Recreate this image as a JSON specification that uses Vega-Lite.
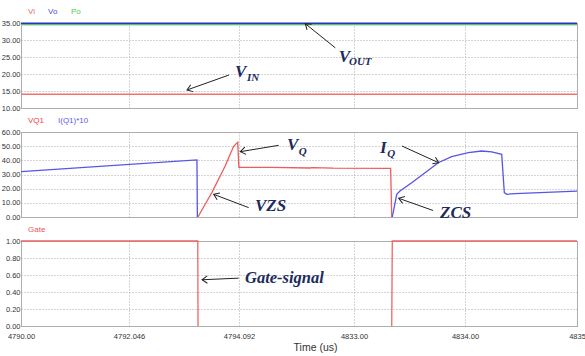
{
  "$schema": "https://vega.github.io/schema/vega-lite/v6.json",
  "background": "white",
  "padding": {"left": 0, "top": 7, "right": 2, "bottom": 0},
  "config": {
    "font": "Liberation Sans",
    "view": {"stroke": "#b0b0b0"},
    "axis": {
      "labelFont": "Liberation Sans",
      "labelFontSize": 7.5,
      "labelColor": "#333333",
      "ticks": false,
      "domain": false,
      "grid": true,
      "gridColor": "#a8a8a8",
      "gridDash": [1, 2],
      "gridWidth": 1,
      "labelPadding": 1
    },
    "legend": {
      "orient": "none",
      "legendX": -1,
      "legendY": -15,
      "direction": "horizontal",
      "title": null,
      "symbolSize": 0,
      "symbolStrokeWidth": 0,
      "symbolOpacity": 0,
      "labelOffset": 0,
      "columnPadding": 5,
      "labelFont": "Liberation Sans",
      "labelFontSize": 8
    }
  },
  "spacing": 24,
  "bounds": "flush",
  "resolve": {"scale": {"color": "independent", "y": "independent", "x": "independent"}, "legend": {"color": "independent"}},
  "datasets": {
    "top_lines": [
      {"s": "Po", "t": 4790, "v": 34.5}, {"s": "Po", "t": 4835, "v": 34.5},
      {"s": "Vo", "t": 4790, "v": 34.9}, {"s": "Vo", "t": 4835, "v": 34.9},
      {"s": "Vi", "t": 4790, "v": 14.05}, {"s": "Vi", "t": 4835, "v": 14.05}
    ],
    "top_text": [
      {"txt": "V", "k": "m", "t": 4794.018, "v": 20.6},
      {"txt": "IN", "k": "s", "t": 4796.8, "v": 18.7},
      {"txt": "V", "k": "m", "t": 4827.82, "v": 25.06},
      {"txt": "OUT", "k": "s", "t": 4831.3, "v": 23.4}
    ],
    "top_arr": [
      {"n": "VIN", "t": 4793.125, "v": 15.3, "t2": 4793.906, "v2": 19.7},
      {"n": "VOUT", "t": 4816.52, "v": 34.8, "t2": 4826.67, "v2": 27.7}
    ],
    "mid_lines": [
      {"s": "VQ1", "g": "r1", "t": 4793.329, "v": 0},
      {"s": "VQ1", "g": "r1", "t": 4793.465, "v": 9.2},
      {"s": "VQ1", "g": "r1", "t": 4793.59, "v": 17.4},
      {"s": "VQ1", "g": "r1", "t": 4793.714, "v": 26.8},
      {"s": "VQ1", "g": "r1", "t": 4793.837, "v": 36.2},
      {"s": "VQ1", "g": "r1", "t": 4793.93, "v": 44.5},
      {"s": "VQ1", "g": "r1", "t": 4793.993, "v": 49.9},
      {"s": "VQ1", "g": "r1", "t": 4794.068, "v": 52.7},
      {"s": "VQ1", "g": "r1", "t": 4794.09, "v": 35.1},
      {"s": "VQ1", "g": "r1", "t": 4805, "v": 35.0},
      {"s": "VQ1", "g": "r1", "t": 4818, "v": 34.6},
      {"s": "VQ1", "g": "r1", "t": 4819, "v": 34.9},
      {"s": "VQ1", "g": "r1", "t": 4826, "v": 34.5},
      {"s": "VQ1", "g": "r1", "t": 4833.33, "v": 34.3},
      {"s": "VQ1", "g": "r1", "t": 4833.34, "v": 0},
      {"s": "I(Q1)*10", "g": "b1", "t": 4790, "v": 32},
      {"s": "I(Q1)*10", "g": "b1", "t": 4793.31, "v": 40.3},
      {"s": "I(Q1)*10", "g": "b1", "t": 4793.318, "v": 0},
      {"s": "I(Q1)*10", "g": "b2", "t": 4833.345, "v": 0},
      {"s": "I(Q1)*10", "g": "b2", "t": 4833.385, "v": 16},
      {"s": "I(Q1)*10", "g": "b2", "t": 4833.414, "v": 18.3},
      {"s": "I(Q1)*10", "g": "b2", "t": 4833.52, "v": 24.2},
      {"s": "I(Q1)*10", "g": "b2", "t": 4833.64, "v": 31.3},
      {"s": "I(Q1)*10", "g": "b2", "t": 4833.759, "v": 38.3},
      {"s": "I(Q1)*10", "g": "b2", "t": 4833.88, "v": 42.6},
      {"s": "I(Q1)*10", "g": "b2", "t": 4834.029, "v": 45.4},
      {"s": "I(Q1)*10", "g": "b2", "t": 4834.149, "v": 46.6},
      {"s": "I(Q1)*10", "g": "b2", "t": 4834.238, "v": 45.9},
      {"s": "I(Q1)*10", "g": "b2", "t": 4834.328, "v": 44.2},
      {"s": "I(Q1)*10", "g": "b2", "t": 4834.351, "v": 17.2},
      {"s": "I(Q1)*10", "g": "b2", "t": 4834.372, "v": 16},
      {"s": "I(Q1)*10", "g": "b2", "t": 4834.446, "v": 16.5},
      {"s": "I(Q1)*10", "g": "b2", "t": 4835, "v": 18.3}
    ],
    "mid_text": [
      {"txt": "V", "k": "m", "t": 4810.33, "v": 50.8},
      {"txt": "Q", "k": "s", "t": 4814.3, "v": 45.6},
      {"txt": "VZS", "k": "m", "t": 4799.5, "v": 7.8},
      {"txt": "I", "k": "m", "t": 4833.234, "v": 49},
      {"txt": "Q", "k": "s", "t": 4833.3, "v": 44.3},
      {"txt": "ZCS", "k": "m", "t": 4833.775, "v": 2.8}
    ],
    "mid_arr": [
      {"n": "VQ", "t": 4794.53, "v": 46.1, "t2": 4807.52, "v2": 50.6},
      {"n": "VZS", "t": 4793.621, "v": 16.0, "t2": 4797.37, "v2": 6.6},
      {"n": "IQ", "t": 4833.763, "v": 38.3, "t2": 4833.432, "v2": 50.1},
      {"n": "ZCS", "t": 4833.403, "v": 13.2, "t2": 4833.712, "v2": 4.6}
    ],
    "bot_lines": [
      {"s": "Gate", "g": "g1", "t": 4790, "v": 1},
      {"s": "Gate", "g": "g1", "t": 4793.325, "v": 1},
      {"s": "Gate", "g": "g1", "t": 4793.33, "v": 0},
      {"s": "Gate", "g": "g2", "t": 4833.34, "v": 0},
      {"s": "Gate", "g": "g2", "t": 4833.345, "v": 1},
      {"s": "Gate", "g": "g2", "t": 4835, "v": 1}
    ],
    "bot_text": [
      {"txt": "Gate-signal", "k": "m", "t": 4796.12, "v": 0.56}
    ],
    "bot_arr": [
      {"n": "GATE", "t": 4793.404, "v": 0.544, "t2": 4794.086, "v2": 0.563}
    ]
  },
  "vconcat": [
    {
      "width": 556,
      "height": 85,
      "encoding": {
        "x": {"field": "t", "type": "quantitative",
          "scale": {"domain": [4790, 4792.046, 4794.092, 4833, 4834, 4835], "range": [0, 108, 218, 333, 444, 556], "nice": false, "zero": false},
          "axis": {"values": [4790, 4792.046, 4794.092, 4833, 4834, 4835], "labels": false, "title": null}},
        "y": {"field": "v", "type": "quantitative",
          "scale": {"domain": [10, 35], "nice": false, "zero": false},
          "axis": {"values": [10, 15, 20, 25, 30, 35], "format": ".2f", "title": null}}
      },
      "layer": [
        {
          "data": {"name": "top_lines"},
          "mark": {"type": "line", "strokeWidth": 1.7},
          "encoding": {
            "color": {"field": "s", "type": "nominal",
              "scale": {"domain": ["Vi", "Vo", "Po"], "range": ["#f07272", "#2b35b8", "#7edb7e"]},
              "legend": {"encode": {"labels": {"update": {"fill": {"signal": "datum.value === 'Vi' ? '#ee6666' : datum.value === 'Vo' ? '#5050d8' : '#50cc50'"}}}}}}
          }
        },
        {
          "data": {"name": "top_arr"},
          "mark": {"type": "rule", "color": "#222222", "strokeWidth": 1},
          "encoding": {"x2": {"field": "t2"}, "y2": {"field": "v2"}}
        },
        {
          "data": {"name": "top_arr"},
          "transform": [{"filter": "datum.n === 'VIN'"}],
          "mark": {"type": "point", "shape": "M-1,-0.7L0,0L-1,0.7", "angle": 160, "size": 110, "filled": false, "color": "#222222", "strokeWidth": 1, "opacity": 1}
        },
        {
          "data": {"name": "top_arr"},
          "transform": [{"filter": "datum.n === 'VOUT'"}],
          "mark": {"type": "point", "shape": "M-1,-0.7L0,0L-1,0.7", "angle": 219, "size": 110, "filled": false, "color": "#222222", "strokeWidth": 1, "opacity": 1}
        },
        {
          "data": {"name": "top_text"},
          "mark": {"type": "text", "align": "left", "baseline": "middle", "font": "Liberation Serif", "fontStyle": "italic", "fontWeight": "bold", "color": "#1c2a5c"},
          "encoding": {
            "text": {"field": "txt"},
            "size": {"field": "k", "type": "ordinal", "scale": {"domain": ["m", "s"], "range": [17, 11]}, "legend": null}
          }
        }
      ]
    },
    {
      "width": 556,
      "height": 85,
      "encoding": {
        "x": {"field": "t", "type": "quantitative",
          "scale": {"domain": [4790, 4792.046, 4794.092, 4833, 4834, 4835], "range": [0, 108, 218, 333, 444, 556], "nice": false, "zero": false},
          "axis": {"values": [4790, 4792.046, 4794.092, 4833, 4834, 4835], "labels": false, "title": null}},
        "y": {"field": "v", "type": "quantitative",
          "scale": {"domain": [0, 60], "nice": false, "zero": false},
          "axis": {"values": [0, 10, 20, 30, 40, 50, 60], "format": ".2f", "title": null}}
      },
      "layer": [
        {
          "data": {"name": "mid_lines"},
          "mark": {"type": "line", "strokeWidth": 1.3},
          "encoding": {
            "detail": {"field": "g"},
            "color": {"field": "s", "type": "nominal",
              "scale": {"domain": ["VQ1", "I(Q1)*10"], "range": ["#ee5c5c", "#5555e8"]},
              "legend": {"encode": {"labels": {"update": {"fill": {"signal": "datum.value === 'VQ1' ? '#ee4444' : '#5a5ae0'"}}}}}}
          }
        },
        {
          "data": {"name": "mid_arr"},
          "mark": {"type": "rule", "color": "#222222", "strokeWidth": 1},
          "encoding": {"x2": {"field": "t2"}, "y2": {"field": "v2"}}
        },
        {
          "data": {"name": "mid_arr"},
          "transform": [{"filter": "datum.n === 'VQ'"}],
          "mark": {"type": "point", "shape": "M-1,-0.7L0,0L-1,0.7", "angle": 170, "size": 110, "filled": false, "color": "#222222", "strokeWidth": 1, "opacity": 1}
        },
        {
          "data": {"name": "mid_arr"},
          "transform": [{"filter": "datum.n === 'VZS'"}],
          "mark": {"type": "point", "shape": "M-1,-0.7L0,0L-1,0.7", "angle": 202, "size": 110, "filled": false, "color": "#222222", "strokeWidth": 1, "opacity": 1}
        },
        {
          "data": {"name": "mid_arr"},
          "transform": [{"filter": "datum.n === 'IQ'"}],
          "mark": {"type": "point", "shape": "M-1,-0.7L0,0L-1,0.7", "angle": 25, "size": 110, "filled": false, "color": "#222222", "strokeWidth": 1, "opacity": 1}
        },
        {
          "data": {"name": "mid_arr"},
          "transform": [{"filter": "datum.n === 'ZCS'"}],
          "mark": {"type": "point", "shape": "M-1,-0.7L0,0L-1,0.7", "angle": 198, "size": 110, "filled": false, "color": "#222222", "strokeWidth": 1, "opacity": 1}
        },
        {
          "data": {"name": "mid_text"},
          "mark": {"type": "text", "align": "left", "baseline": "middle", "font": "Liberation Serif", "fontStyle": "italic", "fontWeight": "bold", "color": "#1c2a5c"},
          "encoding": {
            "text": {"field": "txt"},
            "size": {"field": "k", "type": "ordinal", "scale": {"domain": ["m", "s"], "range": [16.5, 11]}, "legend": null}
          }
        }
      ]
    },
    {
      "width": 556,
      "height": 85,
      "encoding": {
        "x": {"field": "t", "type": "quantitative",
          "scale": {"domain": [4790, 4792.046, 4794.092, 4833, 4834, 4835], "range": [0, 108, 218, 333, 444, 556], "nice": false, "zero": false},
          "axis": {
            "values": [4790, 4792.046, 4794.092, 4833, 4834, 4835],
            "title": "Time (us)",
            "titleFont": "Liberation Sans",
            "titleFontSize": 10.5,
            "titleFontWeight": "normal",
            "titleColor": "#333333",
            "titlePadding": 3,
            "titleX": 294,
            "labelPadding": 6,
            "labelOverlap": false,
            "labelFlush": false,
            "labelBound": false,
            "labelExpr": "datum.value < 4791 ? '4790.00' : datum.value < 4793 ? '4792.046' : datum.value < 4800 ? '4794.092' : datum.value < 4833.5 ? '4833.00' : datum.value < 4834.5 ? '4834.00' : '4835'",
            "encode": {"labels": {"update": {
              "fontSize": {"signal": "datum.value < 4800 ? 7.5 : 10.5"},
              "align": {"signal": "datum.value > 4834.5 ? 'right' : 'center'"}
            }}}
          }},
        "y": {"field": "v", "type": "quantitative",
          "scale": {"domain": [0, 1], "nice": false, "zero": false},
          "axis": {"values": [0, 0.2, 0.4, 0.6, 0.8, 1], "format": ".2f", "title": null}}
      },
      "layer": [
        {
          "data": {"name": "bot_lines"},
          "mark": {"type": "line", "strokeWidth": 1.3},
          "encoding": {
            "detail": {"field": "g"},
            "color": {"field": "s", "type": "nominal",
              "scale": {"domain": ["Gate"], "range": ["#f06464"]},
              "legend": {"encode": {"labels": {"update": {"fill": {"value": "#ee5555"}}}}}}
          }
        },
        {
          "data": {"name": "bot_arr"},
          "mark": {"type": "rule", "color": "#222222", "strokeWidth": 1},
          "encoding": {"x2": {"field": "t2"}, "y2": {"field": "v2"}}
        },
        {
          "data": {"name": "bot_arr"},
          "mark": {"type": "point", "shape": "M-1,-0.7L0,0L-1,0.7", "angle": 178, "size": 110, "filled": false, "color": "#222222", "strokeWidth": 1, "opacity": 1}
        },
        {
          "data": {"name": "bot_text"},
          "mark": {"type": "text", "align": "left", "baseline": "middle", "font": "Liberation Serif", "fontStyle": "italic", "fontWeight": "bold", "color": "#1c2a5c", "fontSize": 16.5},
          "encoding": {"text": {"field": "txt"}}
        }
      ]
    }
  ]
}
